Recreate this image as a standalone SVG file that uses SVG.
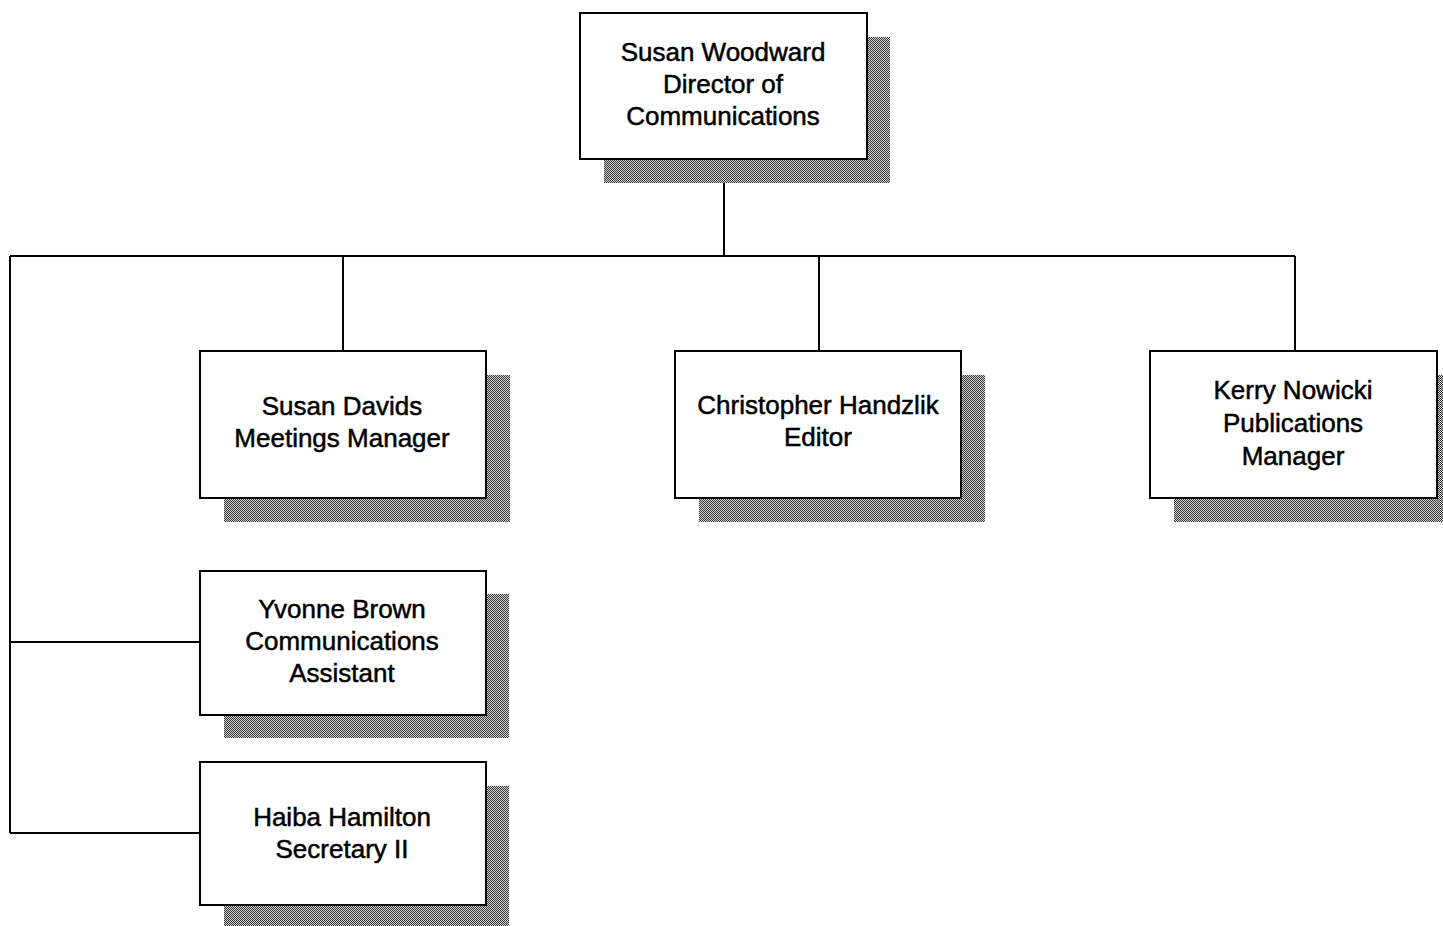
<svg xmlns="http://www.w3.org/2000/svg" width="1443" height="926" viewBox="0 0 1443 926">
<defs>
<pattern id="dither" width="2" height="2" patternUnits="userSpaceOnUse">
<rect width="2" height="2" fill="#cfcfcf"/>
<rect x="0" y="0" width="1" height="1" fill="#3a3a3a"/>
<rect x="1" y="1" width="1" height="1" fill="#3a3a3a"/>
</pattern>
</defs>
<style>
.box{fill:#fff;stroke:#000;stroke-width:2}
.sh{fill:url(#dither)}
.t{font-family:"Liberation Sans",Arial,sans-serif;font-size:26px;fill:#000;stroke:#000;stroke-width:0.5;text-anchor:middle}
.c{fill:none;stroke:#000;stroke-width:2}
</style>
<rect width="1443" height="926" fill="#fff"/>
<g id="connectors">
<path class="c" d="M724 159V256M10 256H1295M343 256V351M819 256V351M1295 256V351M10 256V833M10 642H200M10 833H200"/>
</g>
<g id="woodward">
<rect class="sh" x="604" y="37" width="286" height="146"/>
<rect class="box" x="580" y="13" width="287" height="146"/>
<text class="t" x="723" y="61">Susan Woodward</text>
<text class="t" x="723" y="93">Director of</text>
<text class="t" x="723" y="125">Communications</text>
</g>
<g id="davids">
<rect class="sh" x="224" y="375" width="286" height="147"/>
<rect class="box" x="200" y="351" width="286" height="147"/>
<text class="t" x="342" y="415">Susan Davids</text>
<text class="t" x="342" y="447">Meetings Manager</text>
</g>
<g id="handzlik">
<rect class="sh" x="699" y="375" width="286" height="147"/>
<rect class="box" x="675" y="351" width="286" height="147"/>
<text class="t" x="818" y="414">Christopher Handzlik</text>
<text class="t" x="818" y="446">Editor</text>
</g>
<g id="nowicki">
<rect class="sh" x="1174" y="375" width="269" height="147"/>
<rect class="box" x="1150" y="351" width="287" height="147"/>
<text class="t" x="1293" y="399">Kerry Nowicki</text>
<text class="t" x="1293" y="432">Publications</text>
<text class="t" x="1293" y="465">Manager</text>
</g>
<g id="brown">
<rect class="sh" x="224" y="594" width="285" height="144"/>
<rect class="box" x="200" y="571" width="286" height="144"/>
<text class="t" x="342" y="618">Yvonne Brown</text>
<text class="t" x="342" y="650">Communications</text>
<text class="t" x="342" y="682">Assistant</text>
</g>
<g id="hamilton">
<rect class="sh" x="224" y="786" width="285" height="140"/>
<rect class="box" x="200" y="762" width="286" height="143"/>
<text class="t" x="342" y="826">Haiba Hamilton</text>
<text class="t" x="342" y="858">Secretary II</text>
</g>
</svg>
